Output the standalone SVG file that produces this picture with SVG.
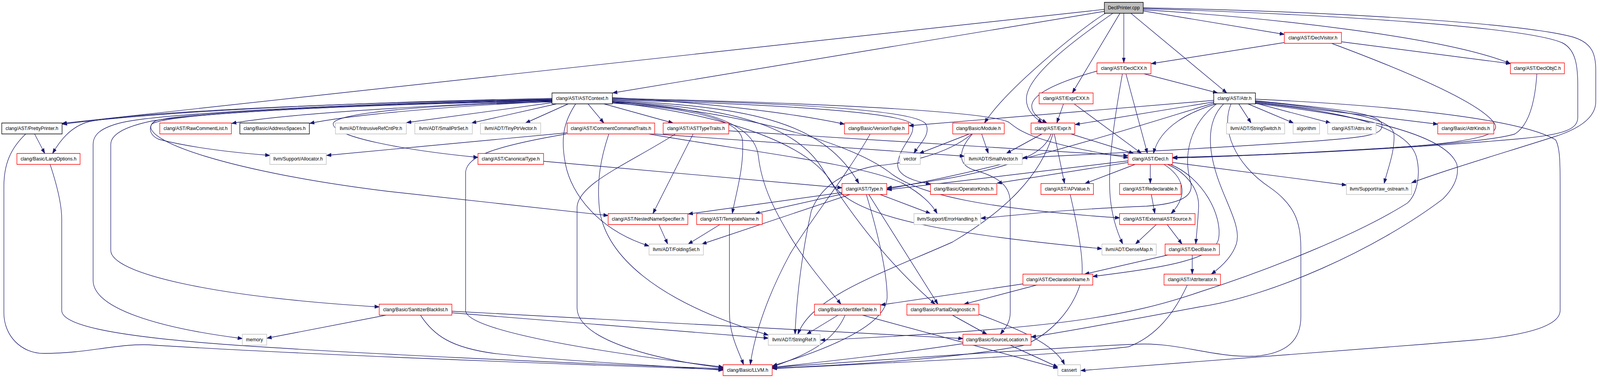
<svg xmlns="http://www.w3.org/2000/svg" width="4531" height="968" viewBox="0 0 4531 968">
<style>
rect.r{fill:#fff;stroke:#ff0000;stroke-width:1.5}
rect.k{fill:#fff;stroke:#000;stroke-width:1.5}
rect.g{fill:#fff;stroke:#bfbfbf;stroke-width:1.5}
rect.s{fill:#bfbfbf;stroke:#000;stroke-width:1.5}
text{font-family:"Liberation Sans",Arial,sans-serif;font-size:13.33px;text-anchor:middle;fill:#000}
.e path{fill:none;stroke:#191970;stroke-width:1.4;marker-end:url(#a)}
</style>
<defs>
<marker id="a" markerWidth="14" markerHeight="10" refX="13" refY="5" orient="auto" markerUnits="userSpaceOnUse">
<path d="M0,0.5 L13,5 L0,9.5 z" fill="#191970" stroke="#191970" stroke-width="1"/>
</marker>
</defs>
<rect x="0" y="0" width="4531" height="968" fill="#fff"/>
<g id="diagram" transform="scale(0.903,1)">
<g id="connectors" class="e">
<path d="M3131,24 L176,316"/>
<path d="M3131,29 L1737,238"/>
<path d="M3134,34 C3060,75 2850,230 2791,315"/>
<path d="M3155,34 C3050,100 2915,190 2910,250 C2907,285 2940,305 2955,315"/>
<path d="M3175,34 L3040,238"/>
<path d="M3186,34 L3186,161"/>
<path d="M3206,34 L3478,238"/>
<path d="M3241,28 L3641,88"/>
<path d="M3241,25 C3600,45 4100,95 4282,163"/>
<path d="M3241,22 C3800,38 4330,70 4430,110 C4468,128 4473,170 4473,220 L4473,300 C4473,330 4440,345 4300,356 C4000,380 3600,398 3325,404"/>
<path d="M3241,20 C3800,30 4320,60 4460,95 C4515,110 4524,140 4524,180 L4524,260 C4524,300 4480,330 4400,352 C4250,395 4100,435 4002,468"/>
<path d="M3641,109 L3264,163"/>
<path d="M3803,107 L4282,163"/>
<path d="M3775,111 C3950,170 4200,260 4238,318 C4252,342 4200,360 4000,375 C3700,392 3500,400 3325,405"/>
<path d="M3110,182 C3000,210 2925,240 2925,272 C2925,292 2950,306 2968,315"/>
<path d="M3243,189 L3452,238"/>
<path d="M3192,189 L3253,393"/>
<path d="M3182,189 C3160,300 3140,420 3147,500 C3152,560 3170,600 3183,625"/>
<path d="M4357,189 C4352,260 4335,320 4295,343 C4200,370 3700,395 3325,403"/>
<path d="M1565,252 C1100,260 500,280 177,318"/>
<path d="M1565,254 C1000,262 400,285 250,312 C200,325 170,360 149,393"/>
<path d="M1565,258 C1200,270 800,292 657,316"/>
<path d="M1565,260 C1300,270 1000,293 878,316"/>
<path d="M1565,263 L1153,314"/>
<path d="M1578,266 L1337,315"/>
<path d="M1611,266 L1490,315"/>
<path d="M1667,266 L1712,315"/>
<path d="M1712,266 L1908,315"/>
<path d="M1565,256 C1000,265 500,290 440,310 C420,320 420,345 451,357 C550,380 680,392 765,398"/>
<path d="M1565,261 C1200,268 960,290 945,315 C935,350 1150,385 1355,403"/>
<path d="M1565,255 C1000,265 450,290 340,315 C285,328 264,345 264,370 L264,718 C264,790 450,840 687,867"/>
<path d="M1565,257 C1000,267 560,290 430,310 C350,325 314,345 314,370 L314,641 C314,700 600,760 1075,786"/>
<path d="M1565,259 C1000,268 470,290 430,318 C400,360 650,440 1100,490 C1400,520 1600,540 1724,552"/>
<path d="M1736,250 C2000,262 2250,290 2394,318"/>
<path d="M1736,254 C2200,262 2600,280 2625,318 C2640,345 2605,370 2591,393"/>
<path d="M1736,256 C2200,266 2560,288 2585,318 C2600,345 2550,372 2545,420 C2542,452 2600,466 2638,471"/>
<path d="M1736,258 C2150,272 2340,320 2435,470"/>
<path d="M1736,252 C2300,262 2800,285 2860,313 C2890,335 2930,365 3198,404"/>
<path d="M1736,264 C1950,276 2100,305 2105,360 C2110,430 2085,500 2076,547"/>
<path d="M1632,266 C1600,310 1588,350 1603,420 C1620,500 1700,590 1840,630"/>
<path d="M1736,260 C2100,288 2400,360 2520,440 C2600,500 2800,535 3174,558"/>
<path d="M1736,262 C2100,298 2300,380 2360,470 C2420,560 2700,600 3124,637"/>
<path d="M1736,262 C2000,272 2140,318 2150,400 C2160,480 2200,545 2240,605 C2290,680 2350,740 2384,779"/>
<path d="M1736,260 C2100,275 2260,330 2330,430 C2440,590 2550,700 2651,779"/>
<path d="M3015,266 L2996,315"/>
<path d="M3045,266 L3236,393"/>
<path d="M3441,257 L2577,322"/>
<path d="M3441,261 L3048,319"/>
<path d="M3441,264 C3200,330 2900,420 2515,484"/>
<path d="M3447,266 C3380,285 3290,320 3270,393"/>
<path d="M3559,258 C3800,280 3915,290 3918,320 C3920,345 3880,352 3700,363 C3400,382 3100,395 2899,404"/>
<path d="M3512,266 L3547,315"/>
<path d="M3538,266 L3667,315"/>
<path d="M3559,264 L3772,315"/>
<path d="M3559,261 L4076,318"/>
<path d="M3559,259 C3800,282 3950,300 3952,345 C3954,390 3935,430 3924,470"/>
<path d="M3449,266 C3370,320 3355,400 3375,465 C3388,505 3340,522 3250,528 C3000,537 2900,550 2781,559"/>
<path d="M3469,266 C3420,310 3425,380 3450,450 C3475,520 3520,580 3505,625 C3492,660 3460,685 3434,702"/>
<path d="M3490,266 C3460,330 3500,420 3600,480 C3680,530 3688,580 3688,645 L3688,811 C3688,870 3650,905 3560,912 C3450,917 3350,880 3241,881 C3100,884 2600,915 2190,941"/>
<path d="M3559,263 C3850,290 3990,330 4015,400 C4030,450 4015,500 3990,520 C3850,600 3600,690 3400,748 C3200,810 3000,842 2326,871"/>
<path d="M3559,265 C3900,300 4100,350 4130,420 C4140,460 4110,492 4090,510 C3900,640 3600,760 3400,786 C3200,820 3000,852 2924,863"/>
<path d="M3559,254 C3900,268 4300,300 4410,358 C4423,378 4423,420 4423,478 L4423,795 C4423,840 4300,860 4190,870 C3800,900 3400,925 3064,949"/>
<path d="M98,343 L127,393"/>
<path d="M73,343 C30,380 11,420 11,478 L11,801 C11,860 60,905 124,905 C250,905 330,880 422,883 C800,905 1500,930 2050,946"/>
<path d="M142,421 C160,470 175,520 175,561 L175,795 C175,830 300,860 654,883 C1000,905 1600,930 2050,944"/>
<path d="M1608,340 L926,398"/>
<path d="M1606,343 C1400,375 1325,400 1320,440 L1320,795 C1320,830 1500,880 2050,940"/>
<path d="M1726,343 C1705,400 1690,460 1700,540 C1720,650 1850,770 2178,858"/>
<path d="M1856,343 L2734,400"/>
<path d="M1839,343 C2100,385 2450,420 2560,470 C2610,495 2640,520 2657,547"/>
<path d="M1965,343 L1851,547"/>
<path d="M2066,335 L3198,399"/>
<path d="M1915,343 C1780,420 1640,470 1636,530 L1636,790 C1640,870 1850,920 2050,942"/>
<path d="M2467,343 C2400,450 2300,560 2240,650 C2180,750 2140,850 2127,934"/>
<path d="M2748,343 L2606,393"/>
<path d="M2783,343 L2802,393"/>
<path d="M2755,343 C2680,400 2550,420 2480,425 C2400,440 2330,470 2300,540 C2275,640 2258,760 2254,856"/>
<path d="M2757,343 C2720,380 2710,420 2760,435 C2840,455 2864,480 2864,520 L2864,800 C2864,830 2845,845 2836,856"/>
<path d="M2954,343 L2853,393"/>
<path d="M2980,343 C2960,390 2900,420 2700,455 C2600,470 2550,478 2515,481"/>
<path d="M2985,343 C2950,450 2850,540 2700,620 C2500,700 2300,760 2262,856"/>
<path d="M2989,343 L3018,470"/>
<path d="M3036,343 L3214,393"/>
<path d="M1541,413 L2387,481"/>
<path d="M3198,412 L2515,486"/>
<path d="M3198,416 L2827,469"/>
<path d="M3218,421 L3076,470"/>
<path d="M3261,421 L3261,470"/>
<path d="M3324,416 L3817,474"/>
<path d="M3300,421 C3350,450 3375,495 3320,547"/>
<path d="M3310,421 C3370,445 3400,490 3398,530 C3396,570 3392,600 3390,625"/>
<path d="M3318,421 C3410,455 3465,550 3455,610 C3445,665 3300,685 3098,708"/>
<path d="M2387,493 L1951,548"/>
<path d="M2387,497 L2141,547"/>
<path d="M2410,498 L1990,625"/>
<path d="M2495,498 L2638,547"/>
<path d="M2463,498 L2659,779"/>
<path d="M2456,498 C2490,600 2515,700 2515,760 C2515,820 2400,880 2190,937"/>
<path d="M3034,498 C3060,600 3075,680 3065,720 C3040,800 2970,860 2900,885 C2700,920 2400,935 2190,943"/>
<path d="M3264,498 L3274,547"/>
<path d="M1868,575 L1893,625"/>
<path d="M2041,575 L1951,625"/>
<path d="M2068,575 L2068,800 C2068,860 2095,900 2108,934"/>
<path d="M3278,575 L3219,625"/>
<path d="M3309,575 L3351,625"/>
<path d="M3311,653 L3075,702"/>
<path d="M3380,653 L3380,702"/>
<path d="M2900,727 L2497,781"/>
<path d="M2939,730 L2733,779"/>
<path d="M3366,730 C3330,800 3280,860 3200,888 C3000,910 2500,930 2190,944"/>
<path d="M1095,807 L757,866"/>
<path d="M1281,801 L2178,866"/>
<path d="M1281,797 L2730,867"/>
<path d="M1192,807 C1230,860 1280,890 1400,905 C1600,925 1850,935 2050,948"/>
<path d="M2376,807 L2287,856"/>
<path d="M2396,807 C2370,860 2320,900 2190,939"/>
<path d="M2445,807 L2999,943"/>
<path d="M2700,807 L2798,856"/>
<path d="M2776,805 C2880,840 2990,880 3018,934"/>
<path d="M2730,880 C2550,905 2350,925 2190,941"/>
<path d="M2864,884 L2999,940"/>
</g>
<g id="n_DeclPrinter"><rect class="s" x="3131" y="6" width="110" height="28"/><text x="3186" y="24">DeclPrinter.cpp</text></g>
<g id="n_DeclVisitor"><rect class="r" x="3641" y="83" width="162" height="28"/><text x="3722" y="101">clang/AST/DeclVisitor.h</text></g>
<g id="n_DeclCXX"><rect class="r" x="3110" y="161" width="153" height="28"/><text x="3186.5" y="179">clang/AST/DeclCXX.h</text></g>
<g id="n_DeclObjC"><rect class="r" x="4282" y="161" width="153" height="28"/><text x="4358.5" y="179">clang/AST/DeclObjC.h</text></g>
<g id="n_ASTContext"><rect class="k" x="1565" y="238" width="171" height="28"/><text x="1650.5" y="256">clang/AST/ASTContext.h</text></g>
<g id="n_ExprCXX"><rect class="r" x="2946" y="238" width="153" height="28"/><text x="3022.5" y="256">clang/AST/ExprCXX.h</text></g>
<g id="n_Attr"><rect class="k" x="3441" y="238" width="118" height="28"/><text x="3500" y="256">clang/AST/Attr.h</text></g>
<g id="n_PrettyPrinter"><rect class="k" x="5" y="315" width="171" height="28"/><text x="90.5" y="333">clang/AST/PrettyPrinter.h</text></g>
<g id="n_RawCommentList"><rect class="r" x="453" y="315" width="203" height="28"/><text x="554.5" y="333">clang/AST/RawCommentList.h</text></g>
<g id="n_AddressSpaces"><rect class="k" x="680" y="315" width="197" height="28"/><text x="778.5" y="333">clang/Basic/AddressSpaces.h</text></g>
<g id="n_IntrusiveRefCntPtr"><rect class="g" x="951" y="315" width="201" height="28"/><text x="1051.5" y="333">llvm/ADT/IntrusiveRefCntPtr.h</text></g>
<g id="n_SmallPtrSet"><rect class="g" x="1176" y="315" width="163" height="28"/><text x="1257.5" y="333">llvm/ADT/SmallPtrSet.h</text></g>
<g id="n_TinyPtrVector"><rect class="g" x="1362" y="315" width="171" height="28"/><text x="1447.5" y="333">llvm/ADT/TinyPtrVector.h</text></g>
<g id="n_CommentCommandTraits"><rect class="r" x="1608" y="315" width="248" height="28"/><text x="1732" y="333">clang/AST/CommentCommandTraits.h</text></g>
<g id="n_ASTTypeTraits"><rect class="r" x="1880" y="315" width="186" height="28"/><text x="1973" y="333">clang/AST/ASTTypeTraits.h</text></g>
<g id="n_VersionTuple"><rect class="r" x="2394" y="315" width="182" height="28"/><text x="2485" y="333">clang/Basic/VersionTuple.h</text></g>
<g id="n_Module"><rect class="r" x="2701" y="315" width="146" height="28"/><text x="2774" y="333">clang/Basic/Module.h</text></g>
<g id="n_Expr"><rect class="r" x="2923" y="315" width="124" height="28"/><text x="2985" y="333">clang/AST/Expr.h</text></g>
<g id="n_StringSwitch"><rect class="g" x="3477" y="315" width="165" height="28"/><text x="3559.5" y="333">llvm/ADT/StringSwitch.h</text></g>
<g id="n_algorithm"><rect class="g" x="3666" y="315" width="75" height="28"/><text x="3703.5" y="333">algorithm</text></g>
<g id="n_Attrs_inc"><rect class="g" x="3764" y="315" width="137" height="28"/><text x="3832.5" y="333">clang/AST/Attrs.inc</text></g>
<g id="n_AttrKinds"><rect class="r" x="4076" y="315" width="159" height="28"/><text x="4155.5" y="333">clang/Basic/AttrKinds.h</text></g>
<g id="n_LangOptions"><rect class="r" x="48" y="393" width="179" height="28"/><text x="137.5" y="411">clang/Basic/LangOptions.h</text></g>
<g id="n_Allocator"><rect class="g" x="765" y="393" width="160" height="28"/><text x="845" y="411">llvm/Support/Allocator.h</text></g>
<g id="n_CanonicalType"><rect class="r" x="1355" y="393" width="186" height="28"/><text x="1448" y="411">clang/AST/CanonicalType.h</text></g>
<g id="n_vector"><rect class="g" x="2551" y="393" width="58" height="28"/><text x="2580" y="411">vector</text></g>
<g id="n_SmallVector"><rect class="g" x="2734" y="393" width="164" height="28"/><text x="2816" y="411">llvm/ADT/SmallVector.h</text></g>
<g id="n_Decl"><rect class="r" x="3198" y="393" width="126" height="28"/><text x="3261" y="411">clang/AST/Decl.h</text></g>
<g id="n_Type"><rect class="r" x="2387" y="470" width="127" height="28"/><text x="2450.5" y="488">clang/AST/Type.h</text></g>
<g id="n_OperatorKinds"><rect class="r" x="2638" y="470" width="188" height="28"/><text x="2732" y="488">clang/Basic/OperatorKinds.h</text></g>
<g id="n_APValue"><rect class="r" x="2951" y="470" width="149" height="28"/><text x="3025.5" y="488">clang/AST/APValue.h</text></g>
<g id="n_Redeclarable"><rect class="r" x="3174" y="470" width="174" height="28"/><text x="3261" y="488">clang/AST/Redeclarable.h</text></g>
<g id="n_raw_ostream"><rect class="g" x="3817" y="470" width="185" height="28"/><text x="3909.5" y="488">llvm/Support/raw_ostream.h</text></g>
<g id="n_NestedNameSpecifier"><rect class="r" x="1724" y="547" width="226" height="28"/><text x="1837" y="565">clang/AST/NestedNameSpecifier.h</text></g>
<g id="n_TemplateName"><rect class="r" x="1975" y="547" width="186" height="28"/><text x="2068" y="565">clang/AST/TemplateName.h</text></g>
<g id="n_ErrorHandling"><rect class="g" x="2591" y="547" width="189" height="28"/><text x="2685.5" y="565">llvm/Support/ErrorHandling.h</text></g>
<g id="n_ExternalASTSource"><rect class="r" x="3174" y="547" width="214" height="28"/><text x="3281" y="565">clang/AST/ExternalASTSource.h</text></g>
<g id="n_FoldingSet"><rect class="g" x="1840" y="625" width="154" height="28"/><text x="1917" y="643">llvm/ADT/FoldingSet.h</text></g>
<g id="n_DenseMap"><rect class="g" x="3124" y="625" width="154" height="28"/><text x="3201" y="643">llvm/ADT/DenseMap.h</text></g>
<g id="n_DeclBase"><rect class="r" x="3303" y="625" width="154" height="28"/><text x="3380" y="643">clang/AST/DeclBase.h</text></g>
<g id="n_DeclarationName"><rect class="r" x="2900" y="702" width="198" height="28"/><text x="2999" y="720">clang/AST/DeclarationName.h</text></g>
<g id="n_AttrIterator"><rect class="r" x="3300" y="702" width="160" height="28"/><text x="3380" y="720">clang/AST/AttrIterator.h</text></g>
<g id="n_SanitizerBlacklist"><rect class="r" x="1075" y="779" width="206" height="28"/><text x="1178" y="797">clang/Basic/SanitizerBlacklist.h</text></g>
<g id="n_IdentifierTable"><rect class="r" x="2309" y="779" width="187" height="28"/><text x="2402.5" y="797">clang/Basic/IdentifierTable.h</text></g>
<g id="n_PartialDiagnostic"><rect class="r" x="2571" y="779" width="204" height="28"/><text x="2673" y="797">clang/Basic/PartialDiagnostic.h</text></g>
<g id="n_memory"><rect class="g" x="687" y="856" width="69" height="28"/><text x="721.5" y="874">memory</text></g>
<g id="n_StringRef"><rect class="g" x="2178" y="856" width="147" height="28"/><text x="2251.5" y="874">llvm/ADT/StringRef.h</text></g>
<g id="n_SourceLocation"><rect class="r" x="2730" y="856" width="193" height="28"/><text x="2826.5" y="874">clang/Basic/SourceLocation.h</text></g>
<g id="n_LLVM"><rect class="r" x="2050" y="934" width="139" height="28"/><text x="2119.5" y="952">clang/Basic/LLVM.h</text></g>
<g id="n_cassert"><rect class="g" x="2999" y="934" width="64" height="28"/><text x="3031" y="952">cassert</text></g>
</g>
</svg>
